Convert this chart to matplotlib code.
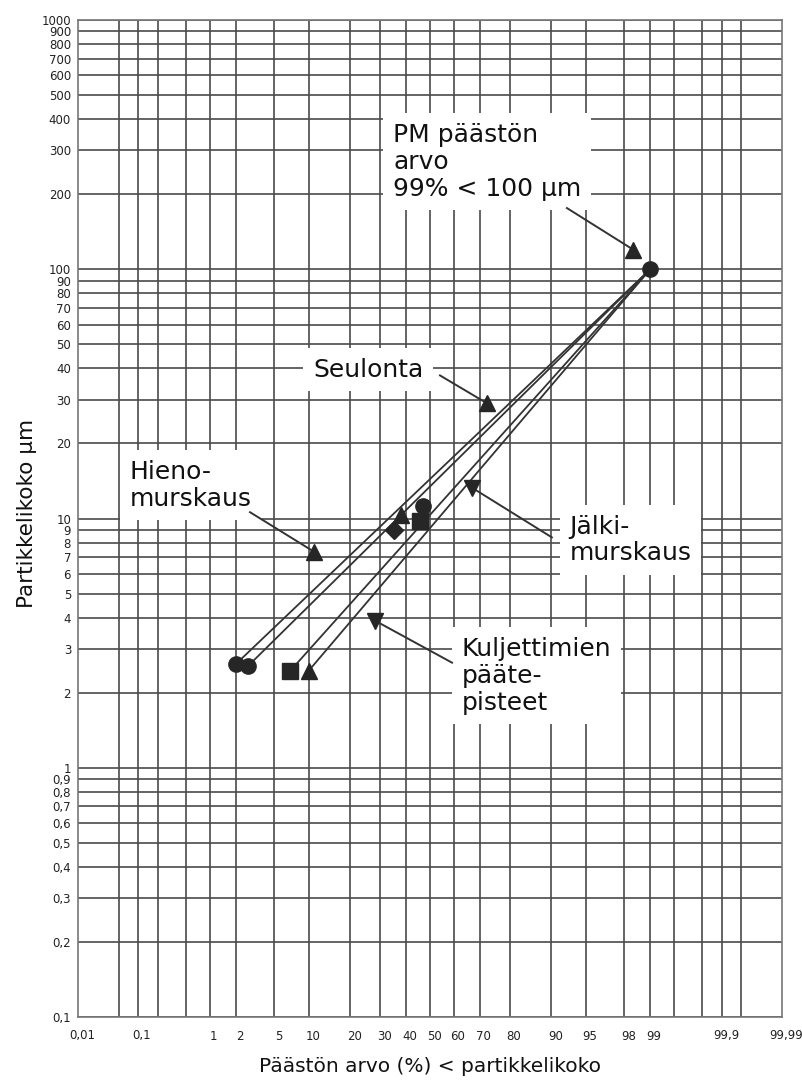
import math
import numpy as np
import matplotlib
matplotlib.use('Agg')
import matplotlib.pyplot as plt
import matplotlib.transforms as mtransforms

# PM-päästön arvo (prosentti, partikkelikoko um)
pm_pct = 99
pm_size = 100

# kuljettimien päätepisteet (alaosan pisteet)
end_pct = [2, 2.7, 7, 10]
end_size = [2.6, 2.55, 2.45, 2.45]
end_marker = ['o', 'o', 's', '^']

# keskiryhmä
mid_pct = [35, 38, 47, 46]
mid_size = [9.0, 10.3, 11.2, 9.8]
mid_marker = ['D', '^', 'o', 's']

x_ticks = [0.01, 0.1, 1, 2, 5, 10, 20, 30, 40, 50, 60, 70, 80, 90, 95, 98, 99, 99.9, 99.99]
x_grid = [0.05, 0.1, 0.2, 0.5, 1, 2, 5, 10, 20, 30, 40, 50, 60, 70, 80, 90, 95, 98, 99,
          99.5, 99.8, 99.9, 99.95]
y_ticks = [0.1, 0.2, 0.3, 0.4, 0.5, 0.6, 0.7, 0.8, 0.9,
           1, 2, 3, 4, 5, 6, 7, 8, 9,
           10, 20, 30, 40, 50, 60, 70, 80, 90,
           100, 200, 300, 400, 500, 600, 700, 800, 900, 1000]

# teksti, tekstin paikka, nuolen alku, nuolen pää, pään merkki
notes = [
    ("PM päästön\narvo\n99% < 100 µm", (34.8, 270), (92.6, 176), (98.4, 120), '^'),
    ("Seulonta", (10.8, 39.6), (54.2, 37.5), (72.6, 29.0), '^'),
    ("Hieno-\nmurskaus", (0.076, 13.6), (2.86, 10.6), (11.0, 7.36), '^'),
    ("Jälki-\nmurskaus", (93.0, 8.2), (90.1, 8.4), (67.1, 13.3), 'v'),
    ("Kuljettimien\npääte-\npisteet", (63.2, 2.34), (59.2, 2.64), (28.1, 3.89), 'v'),
]

# normaalijakauman käänteisfunktio (Acklam)
A = [-3.969683028665376e+01, 2.209460984245205e+02, -2.759285104469687e+02,
     1.383577518672690e+02, -3.066479806614716e+01, 2.506628277459239e+00]
B = [-5.447609879822406e+01, 1.615858368580409e+02, -1.556989798598866e+02,
     6.680131188771972e+01, -1.328068155288572e+01]
C = [-7.784894002430293e-03, -3.223964580411365e-01, -2.400758277161838e+00,
     -2.549732188126315e+00, 4.374664141464968e+00, 2.938163982698783e+00]
D = [7.784695709041462e-03, 3.224671290700398e-01, 2.445134137142996e+00,
     3.754408661907416e+00]


def ppf(p):
    shape = np.shape(p)
    p = np.atleast_1d(np.asarray(p, float))
    out = np.empty_like(p)
    lo = p < 0.02425
    hi = p > 1 - 0.02425
    mid = ~(lo | hi)
    q = np.sqrt(-2 * np.log(p[lo]))
    out[lo] = ((((((C[0]*q+C[1])*q+C[2])*q+C[3])*q+C[4])*q+C[5]) /
               ((((D[0]*q+D[1])*q+D[2])*q+D[3])*q+1))
    q = p[mid] - 0.5
    r = q * q
    out[mid] = ((((((A[0]*r+A[1])*r+A[2])*r+A[3])*r+A[4])*r+A[5])*q /
                (((((B[0]*r+B[1])*r+B[2])*r+B[3])*r+B[4])*r+1))
    q = np.sqrt(-2 * np.log(1 - p[hi]))
    out[hi] = -((((((C[0]*q+C[1])*q+C[2])*q+C[3])*q+C[4])*q+C[5]) /
                ((((D[0]*q+D[1])*q+D[2])*q+D[3])*q+1))
    return out.reshape(shape)


_erf = np.vectorize(math.erf)


def fwd(x):
    p = np.clip(np.asarray(x, float) / 100.0, 1e-12, 1 - 1e-12)
    return ppf(p)


def inv(z):
    return 50.0 * (1.0 + _erf(np.asarray(z, float) / math.sqrt(2)))


def fmt(v):
    return ('%g' % v).replace('.', ',')


fig = plt.figure(figsize=(8.03, 10.86), dpi=100)
ax = fig.add_axes([78/803, 1 - 1017/1086, 704/803, 997/1086])
ax.set_xscale('function', functions=(fwd, inv))
ax.set_yscale('log')
ax.set_xlim(0.01, 99.99)
ax.set_ylim(0.1, 1000)

gcol = '#4a4a4a'
for v in x_grid:
    ax.axvline(v, color=gcol, lw=1.2, zorder=1)
for v in y_ticks:
    ax.axhline(v, color=gcol, lw=1.2, zorder=1)

ax.set_xticks(x_ticks)
ax.set_xticklabels([fmt(v) for v in x_ticks])
ax.set_xticks([], minor=True)
ax.set_yticks(y_ticks)
ax.set_yticklabels([fmt(v) for v in y_ticks])
ax.set_yticks([], minor=True)
ax.tick_params(axis='both', length=0, labelsize=8.5, colors='#222222')
ax.tick_params(axis='x', pad=9)
ax.tick_params(axis='y', pad=5)
shift = mtransforms.ScaledTranslation(4/100, 0, fig.dpi_scale_trans)
for lab in ax.get_xticklabels():
    lab.set_transform(lab.get_transform() + shift)
for s in ax.spines.values():
    s.set_color('#777777')
    s.set_linewidth(1.2)

lc = '#333333'
for x, y in zip(end_pct, end_size):
    ax.plot([x, pm_pct], [y, pm_size], color=lc, lw=1.3, zorder=3)

mc = '#262626'
ax.plot(pm_pct, pm_size, 'o', color=mc, ms=11, zorder=5)
for x, y, m in zip(end_pct, end_size, end_marker):
    ax.plot(x, y, m, color=mc, ms=11 if m != '^' else 12, zorder=5)
for x, y, m in zip(mid_pct, mid_size, mid_marker):
    ax.plot(x, y, m, color=mc, ms=11 if m != 'D' else 9, zorder=5)

for txt, tpos, tail, head, hm in notes:
    ax.text(tpos[0], tpos[1], txt, fontsize=18, color='#111111', ha='left', va='center',
            linespacing=1.15, zorder=6,
            bbox=dict(fc='white', ec='none', pad=7))
    ax.plot([tail[0], head[0]], [tail[1], head[1]], color='#333333', lw=1.4, zorder=7)
    ax.plot(head[0], head[1], hm, color='#262626', ms=11, zorder=8)

fig.text(430/803, 1 - 1066/1086, 'Päästön arvo (%) < partikkelikoko', fontsize=14.5,
         ha='center', va='center', color='#111111')
fig.text(27/803, 1 - 513/1086, 'Partikkelikoko µm', fontsize=15.5, rotation=90,
         ha='center', va='center', color='#111111')

fig.savefig('out.png', dpi=100, facecolor='white')
